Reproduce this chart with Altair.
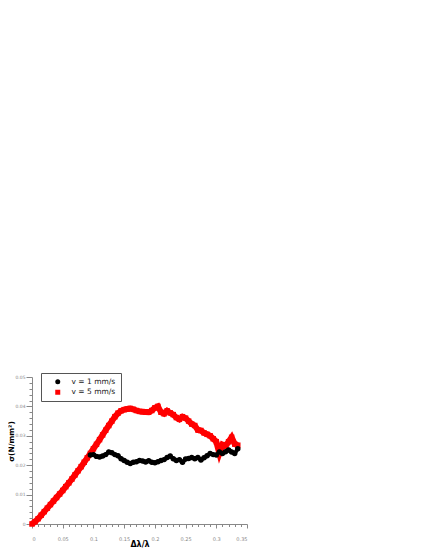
import altair as alt
import pandas as pd

series_names = ["v = 1 mm/s", "v = 5 mm/s"]
series_colors = ["#000000", "#ff0000"]
series_shapes = ["circle", "square"]

x5 = [0.000, 0.005, 0.010, 0.015, 0.020, 0.025, 0.030, 0.035, 0.040, 0.045,
      0.050, 0.055, 0.060, 0.065, 0.070, 0.075, 0.080, 0.085, 0.090, 0.095,
      0.100, 0.105, 0.110, 0.115, 0.120, 0.125, 0.130, 0.135, 0.140, 0.145,
      0.150, 0.155, 0.160, 0.165, 0.170, 0.175, 0.180, 0.185, 0.190, 0.195,
      0.200, 0.205, 0.210, 0.215, 0.220, 0.225, 0.230, 0.235, 0.240, 0.245,
      0.250, 0.255, 0.260, 0.265, 0.270, 0.275, 0.280, 0.285, 0.290, 0.295,
      0.300, 0.305, 0.310, 0.315, 0.320, 0.325, 0.330, 0.335]
y5 = [0.0000, 0.0008, 0.0018, 0.0030, 0.0042, 0.0054, 0.0066, 0.0078, 0.0090, 0.0102,
      0.0114, 0.0127, 0.0140, 0.0153, 0.0167, 0.0181, 0.0195, 0.0210, 0.0225, 0.0240,
      0.0256, 0.0271, 0.0287, 0.0303, 0.0319, 0.0335, 0.0350, 0.0365, 0.0377, 0.0385,
      0.0389, 0.0391, 0.0393, 0.0390, 0.0386, 0.0383, 0.0382, 0.0381, 0.0380, 0.0386,
      0.0395, 0.0400, 0.0380, 0.0375, 0.0385, 0.0378, 0.0372, 0.0362, 0.0356, 0.0365,
      0.0360, 0.0350, 0.0340, 0.0335, 0.0320, 0.0318, 0.0310, 0.0305, 0.0300, 0.0290,
      0.0280, 0.0240, 0.0270, 0.0265, 0.0280, 0.0295, 0.0272, 0.0268]

x1 = [0.095, 0.100, 0.105, 0.110, 0.115, 0.120, 0.125, 0.130, 0.135, 0.140,
      0.145, 0.150, 0.155, 0.160, 0.165, 0.170, 0.175, 0.180, 0.185, 0.190,
      0.195, 0.200, 0.205, 0.210, 0.215, 0.220, 0.225, 0.230, 0.235, 0.240,
      0.245, 0.250, 0.255, 0.260, 0.265, 0.270, 0.275, 0.280, 0.285, 0.290,
      0.295, 0.300, 0.305, 0.310, 0.315, 0.320, 0.325, 0.330, 0.335]
y1 = [0.0235, 0.0236, 0.0230, 0.0228, 0.0231, 0.0236, 0.0245, 0.0242, 0.0236, 0.0232,
      0.0222, 0.0216, 0.0210, 0.0206, 0.0210, 0.0212, 0.0216, 0.0214, 0.0211, 0.0215,
      0.0210, 0.0208, 0.0212, 0.0216, 0.0219, 0.0226, 0.0231, 0.0222, 0.0216, 0.0219,
      0.0210, 0.0221, 0.0223, 0.0226, 0.0222, 0.0226, 0.0218, 0.0225, 0.0232, 0.0240,
      0.0236, 0.0235, 0.0245, 0.0240, 0.0246, 0.0252, 0.0245, 0.0240, 0.0256]

x_ticks = [0, 0.01, 0.02, 0.03, 0.04, 0.05, 0.06, 0.07, 0.08, 0.09, 0.1, 0.11,
           0.12, 0.13, 0.14, 0.15, 0.16, 0.17, 0.18, 0.19, 0.2, 0.21, 0.22, 0.23,
           0.24, 0.25, 0.26, 0.27, 0.28, 0.29, 0.3, 0.31, 0.32, 0.33, 0.34, 0.35]
y_ticks = [0, 0.002, 0.004, 0.006, 0.008, 0.01, 0.012, 0.014, 0.016, 0.018,
           0.02, 0.022, 0.024, 0.026, 0.028, 0.03, 0.032, 0.034, 0.036, 0.038,
           0.04, 0.042, 0.044, 0.046, 0.048, 0.05]

df = pd.concat([
    pd.DataFrame({"x": x5, "y": y5, "s": series_names[1], "o": 0}),
    pd.DataFrame({"x": x1, "y": y1, "s": series_names[0], "o": 1}),
], ignore_index=True)

font = "DejaVu Sans"
xmajor = "abs(datum.value*20 - round(datum.value*20)) < 0.001"
ymajor = "abs(datum.value*100 - round(datum.value*100)) < 0.001"

xenc = alt.X("x:Q", scale=alt.Scale(domain=[0, 0.35], nice=False),
             axis=alt.Axis(title="Δλ/λ", values=x_ticks, format="~g",
                           labelExpr=f"({xmajor}) ? datum.label : ''",
                           tickSize={"condition": {"test": xmajor, "value": 4}, "value": 2.5},
                           grid=False, domainColor="#888888", tickColor="#888888",
                           labelColor="#888888", labelFontSize=5, labelFont=font,
                           labelPadding=8, titleFont=font, titleFontSize=8,
                           titleFontWeight="bold", titleY=16, titleBaseline="top",
                           titleColor="#000000"))
yenc = alt.Y("y:Q", scale=alt.Scale(domain=[0, 0.05], nice=False),
             axis=alt.Axis(title="σ(N/mm²)", values=y_ticks, format="~g",
                           labelExpr=f"({ymajor}) ? datum.label : ''",
                           tickSize={"condition": {"test": ymajor, "value": 6}, "value": 3},
                           grid=False, domainColor="#888888", tickColor="#888888",
                           labelColor="#888888", labelFontSize=4.5, labelFont=font,
                           labelPadding=1, titleFont=font, titleFontSize=7.5,
                           titleFontWeight="bold", titleX=-16.5, titleY=64,
                           titleBaseline="bottom", titleColor="#000000"))

base = alt.Chart(df)

line5 = base.transform_filter(alt.datum.s == series_names[1]).mark_line(
    color=series_colors[1], strokeWidth=6).encode(x=xenc, y=yenc, order="x:Q")
line1 = base.transform_filter(alt.datum.s == series_names[0]).mark_line(
    color=series_colors[0], strokeWidth=4).encode(x=xenc, y=yenc, order="x:Q")

points = base.mark_point(filled=True, opacity=1, size=30).encode(
    x=xenc, y=yenc,
    color=alt.Color("s:N", scale=alt.Scale(domain=series_names, range=series_colors),
                    legend=alt.Legend(title=None, orient="none", legendX=9, legendY=-4,
                                      strokeColor="#555555", fillColor="#ffffff",
                                      padding=5, labelFont=font, labelFontSize=7.5,
                                      labelColor="#222222", symbolSize=25, rowPadding=1.5,
                                      symbolOffset=8, labelOffset=10)),
    shape=alt.Shape("s:N", scale=alt.Scale(domain=series_names, range=series_shapes),
                    legend=alt.Legend(title=None, orient="none", legendX=9, legendY=-4)),
    order=alt.Order("o:Q"),
)

chart = alt.layer(line5, line1, points).properties(
    width=215, height=147,
    autosize=alt.AutoSizeParams(type="none"),
    padding={"left": 24, "top": 369, "right": 10, "bottom": 30},
).configure_view(stroke=None)

chart.save("out.html", embed_options={"renderer": "svg", "actions": False})
